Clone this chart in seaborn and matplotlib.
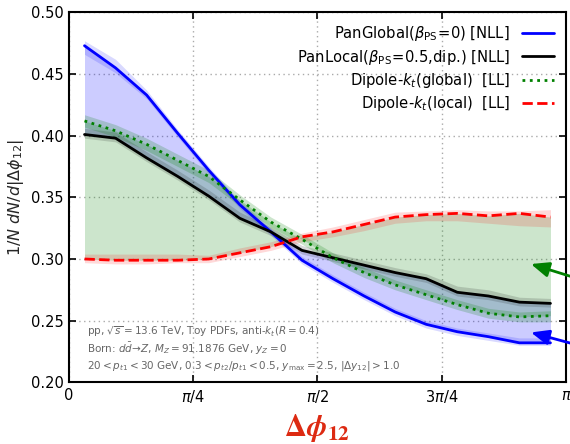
import numpy as np
import pandas as pd
import matplotlib
matplotlib.use("Agg")
import matplotlib.pyplot as plt
import seaborn as sns

# ---- data ----
phi = [(i + 0.5) * np.pi / 16 for i in range(16)]

pan_global = [0.473, 0.455, 0.433, 0.402, 0.372, 0.344, 0.322, 0.299,
              0.284, 0.270, 0.257, 0.247, 0.241, 0.237, 0.232, 0.232]
pan_global_lo = [0.466, 0.451, 0.430, 0.399, 0.369, 0.341, 0.319, 0.296,
                 0.281, 0.267, 0.254, 0.244, 0.238, 0.234, 0.230, 0.230]
pan_global_hi = [0.477, 0.462, 0.437, 0.405, 0.375, 0.347, 0.325, 0.302,
                 0.287, 0.273, 0.260, 0.250, 0.244, 0.240, 0.236, 0.236]

pan_local = [0.401, 0.398, 0.382, 0.367, 0.351, 0.333, 0.322, 0.307,
             0.301, 0.295, 0.289, 0.284, 0.273, 0.270, 0.265, 0.264]
pan_local_lo = [0.398, 0.395, 0.379, 0.364, 0.348, 0.330, 0.319, 0.304,
                0.298, 0.292, 0.286, 0.281, 0.270, 0.267, 0.262, 0.261]
pan_local_hi = [0.406, 0.403, 0.387, 0.372, 0.356, 0.338, 0.326, 0.311,
                0.305, 0.299, 0.293, 0.288, 0.278, 0.275, 0.269, 0.268]

dip_global = [0.412, 0.404, 0.393, 0.380, 0.367, 0.348, 0.330, 0.316,
              0.301, 0.289, 0.279, 0.271, 0.263, 0.256, 0.253, 0.254]
dip_global_lo = [0.407, 0.399, 0.388, 0.375, 0.362, 0.343, 0.326, 0.312,
                 0.297, 0.285, 0.275, 0.267, 0.259, 0.252, 0.249, 0.249]
dip_global_hi = [0.417, 0.409, 0.398, 0.385, 0.372, 0.352, 0.334, 0.320,
                 0.305, 0.293, 0.283, 0.275, 0.267, 0.260, 0.257, 0.258]

dip_local = [0.300, 0.299, 0.299, 0.299, 0.300, 0.305, 0.310, 0.318,
             0.322, 0.328, 0.334, 0.336, 0.337, 0.335, 0.337, 0.334]
dip_local_lo = [0.297, 0.296, 0.296, 0.297, 0.297, 0.302, 0.307, 0.314,
                0.318, 0.323, 0.329, 0.331, 0.331, 0.329, 0.327, 0.326]
dip_local_hi = [0.304, 0.304, 0.304, 0.304, 0.303, 0.309, 0.314, 0.321,
                0.326, 0.332, 0.338, 0.339, 0.340, 0.339, 0.339, 0.340]

labels = [r"PanGlobal($\beta_{\rm PS}\!=\!0$) [NLL]",
          r"PanLocal($\beta_{\rm PS}\!=\!0.5$,dip.) [NLL]",
          r"Dipole-$k_t$(global)  [LL]",
          r"Dipole-$k_t$(local)  [LL]"]

xtick_vals = [0, np.pi / 4, np.pi / 2, 3 * np.pi / 4, np.pi]
xtick_labels = ["0", r"$\pi/4$", r"$\pi/2$", r"$3\pi/4$", r"$\pi$"]
ytick_vals = [0.20, 0.25, 0.30, 0.35, 0.40, 0.45, 0.50]

info_lines = [r"pp, $\sqrt{s}=13.6$ TeV, Toy PDFs, anti-$k_t(R=0.4)$",
              r"Born: $d\bar{d}\!\to\! Z$, $M_Z=91.1876$ GeV, $y_Z=0$",
              r"$20<p_{t1}<30$ GeV, $0.3<p_{t2}/p_{t1}<0.5$, $y_{\rm max}=2.5$, $|\Delta y_{12}|>1.0$"]

# ---- style ----
sns.set_style("ticks")
plt.rcParams["font.family"] = ["DejaVu Sans"]

fig = plt.figure(figsize=(5.70, 4.44), dpi=100)
ax = fig.add_axes([0.121, 0.139, 0.872, 0.833])

df = pd.DataFrame({"phi": phi, "pg": pan_global, "pl": pan_local,
                   "dg": dip_global, "dl": dip_local})

# big difference fills
ax.fill_between(phi, pan_global, pan_local, color="blue", alpha=0.2, lw=0, zorder=1)
ax.fill_between(phi, dip_global, dip_local, color="green", alpha=0.2, lw=0, zorder=1)
# uncertainty bands
ax.fill_between(phi, pan_global_lo, pan_global_hi, color="blue", alpha=0.15, lw=0, zorder=2)
ax.fill_between(phi, pan_local_lo, pan_local_hi, color="black", alpha=0.15, lw=0, zorder=2)
ax.fill_between(phi, dip_global_lo, dip_global_hi, color="green", alpha=0.2, lw=0, zorder=2)
ax.fill_between(phi, dip_local_lo, dip_local_hi, color="red", alpha=0.15, lw=0, zorder=2)

sns.lineplot(data=df, x="phi", y="pg", ax=ax, color="blue", lw=2, label=labels[0], zorder=5)
sns.lineplot(data=df, x="phi", y="pl", ax=ax, color="black", lw=2, label=labels[1], zorder=5)
sns.lineplot(data=df, x="phi", y="dg", ax=ax, color="green", lw=2, linestyle=":", label=labels[2], zorder=5)
sns.lineplot(data=df, x="phi", y="dl", ax=ax, color="red", lw=2, linestyle="--", label=labels[3], zorder=5)

ax.set_xlim(0, np.pi)
ax.set_ylim(0.20, 0.50)
ax.set_xticks(xtick_vals)
ax.set_xticklabels(xtick_labels)
ax.set_yticks(ytick_vals)
ax.set_yticklabels([f"{v:.2f}" for v in ytick_vals])
ax.tick_params(direction="in", top=True, right=True, length=5, width=1.2,
               labelsize=10.5, colors="black", pad=4)
for s in ax.spines.values():
    s.set_linewidth(1.5)
    s.set_color("black")
ax.grid(True, linestyle=(0, (1, 2.5)), color="#aaaaaa", lw=1.0)

ax.set_ylabel(r"$1/N\ dN/d|\Delta\phi_{12}|$", fontsize=11.5, labelpad=3)
ax.set_xlabel(r"$\mathbf{\Delta}\boldsymbol{\phi}_{\mathbf{12}}$", fontsize=22,
              color="#dd2a12", math_fontfamily="stix", labelpad=5)

leg = ax.legend(loc="upper right", frameon=False, markerfirst=False,
                fontsize=10.6, handlelength=2.2, labelspacing=0.3,
                borderaxespad=0.4)
for t in leg.get_texts():
    t.set_color("black")

for i, t in enumerate(info_lines):
    ax.text(0.036, 0.136 - i * 0.046, t, transform=ax.transAxes, fontsize=7.5,
            color="#666666", ha="left", va="center")

# arrows from outside the axes
arrow_style = "-|>,head_length=0.6,head_width=0.25"
ax.annotate("", xy=(2.903, 0.2966), xycoords="data",
            xytext=(1.01, 0.374), textcoords="figure fraction",
            arrowprops=dict(arrowstyle=arrow_style, color="green", lw=2,
                            mutation_scale=18), annotation_clip=False)
ax.annotate("", xy=(2.903, 0.241), xycoords="data",
            xytext=(1.01, 0.224), textcoords="figure fraction",
            arrowprops=dict(arrowstyle=arrow_style, color="blue", lw=2,
                            mutation_scale=18), annotation_clip=False)

fig.savefig("out.png", dpi=100)
